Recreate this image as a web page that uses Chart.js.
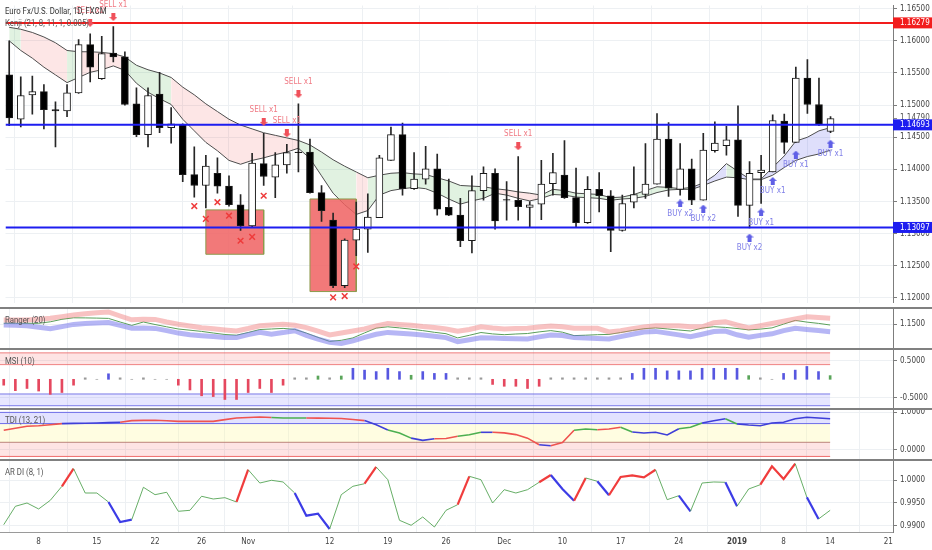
<!DOCTYPE html>
<html>
<head>
<meta charset="utf-8">
<title>EURUSD 1D</title>
<script src="https://cdn.jsdelivr.net/npm/chart.js@4/dist/chart.umd.min.js"></script>
<style>
  body { margin: 0; background: #fff; }
  #wrap { position: relative; width: 932px; height: 550px; overflow: hidden; }
  #wrap canvas { position: absolute; left: 0; }
  .sep { position: absolute; left: 0; width: 932px; height: 2px; background: #808080; }
  .ttl { position: absolute; left: 5px; font: 9.5px Roboto, 'Liberation Sans', sans-serif; color: #555; white-space: nowrap; transform: scaleX(0.82); transform-origin: 0 0; line-height: 10px; }
</style>
</head>
<body>
<div id="wrap">
  <canvas id="priceChart" width="932" height="308" style="top:0"></canvas>
  <canvas id="rangerChart" width="932" height="40" style="top:309px"></canvas>
  <canvas id="msiChart" width="932" height="59" style="top:350px"></canvas>
  <canvas id="tdiChart" width="932" height="49" style="top:410px"></canvas>
  <canvas id="ardiChart" width="932" height="89" style="top:461px"></canvas>
  <div class="sep" style="top:307px"></div>
  <div class="sep" style="top:348px"></div>
  <div class="sep" style="top:408px"></div>
  <div class="sep" style="top:459px"></div>
  <div class="ttl" style="top:6px;color:#333">Euro Fx/U.S. Dollar, 1D, FXCM</div>
  <div class="ttl" style="top:18px">Kenji (21, 8, 11, 1, 0.005)</div>
  <div class="ttl" style="top:315px">Ranger (20)</div>
  <div class="ttl" style="top:356px">MSI (10)</div>
  <div class="ttl" style="top:415px">TDI (13, 21)</div>
  <div class="ttl" style="top:467px">AR DI (8, 1)</div>
</div>
<script>
// daily bars, 3 Oct 2018 .. 14 Jan 2019 (index = bar number)
const opens = [1.1547,1.1478,1.1516,1.1521,1.1493,1.1491,1.1519,1.1594,1.1541,1.1581,
  1.1575,1.1502,1.1454,1.1517,1.1465,1.1470,1.1392,1.1375,1.1394,1.1374,
  1.1345,1.1312,1.1409,1.1388,1.1407,1.1427,1.1427,1.1364,1.1321,1.1219,
  1.1290,1.1307,1.1325,1.1414,1.1454,1.1370,1.1385,1.1401,1.1341,1.1329,
  1.1289,1.1367,1.1394,1.1353,1.1352,1.1341,1.1346,1.1378,1.1391,1.1356,
  1.1317,1.1369,1.1359,1.1305,1.1349,1.1361,1.1377,1.1447,1.1369,1.1401,
  1.1352,1.1429,1.1437,1.1446,1.1344,1.1395,1.1396,1.1475,1.1442,1.1542,
  1.1501,1.1459];
const highs = [1.1600,1.1544,1.1545,1.1532,1.1505,1.1532,1.1602,1.1611,1.1607,1.1622,
  1.1583,1.1527,1.1527,1.1551,1.1496,1.1471,1.1435,1.1422,1.1418,1.1390,
  1.1361,1.1425,1.1456,1.1426,1.1439,1.1502,1.1447,1.1375,1.1332,1.1292,
  1.1349,1.1362,1.1422,1.1466,1.1472,1.1426,1.1436,1.1424,1.1385,1.1355,
  1.1390,1.1404,1.1401,1.1381,1.1420,1.1350,1.1414,1.1425,1.1445,1.1402,
  1.1389,1.1395,1.1367,1.1360,1.1404,1.1440,1.1487,1.1473,1.1440,1.1416,
  1.1456,1.1474,1.1467,1.1499,1.1412,1.1422,1.1485,1.1486,1.1559,1.1571,
  1.1542,1.1482];
const lows = [1.1468,1.1466,1.1486,1.1463,1.1435,1.1482,1.1518,1.1536,1.1540,1.1567,
  1.1500,1.1451,1.1435,1.1457,1.1441,1.1381,1.1357,1.1340,1.1363,1.1343,
  1.1305,1.1311,1.1375,1.1356,1.1394,1.1396,1.1363,1.1319,1.1216,1.1216,
  1.1266,1.1271,1.1325,1.1414,1.1360,1.1369,1.1377,1.1329,1.1328,1.1280,
  1.1270,1.1352,1.1307,1.1321,1.1321,1.1311,1.1322,1.1360,1.1355,1.1310,
  1.1316,1.1334,1.1272,1.1304,1.1340,1.1355,1.1377,1.1358,1.1360,1.1345,
  1.1352,1.1427,1.1422,1.1327,1.1309,1.1347,1.1396,1.1425,1.1442,1.1487,
  1.1468,1.1457];
const closes = [1.1480,1.1515,1.1521,1.1493,1.1491,1.1519,1.1594,1.1559,1.1580,1.1575,
  1.1501,1.1454,1.1515,1.1465,1.1471,1.1392,1.1375,1.1405,1.1374,1.1345,
  1.1312,1.1410,1.1389,1.1407,1.1426,1.1426,1.1364,1.1336,1.1219,1.1290,
  1.1307,1.1326,1.1418,1.1454,1.1370,1.1385,1.1401,1.1338,1.1329,1.1289,
  1.1367,1.1394,1.1320,1.1352,1.1342,1.1345,1.1377,1.1395,1.1356,1.1317,
  1.1369,1.1359,1.1305,1.1347,1.1361,1.1377,1.1447,1.1371,1.1401,1.1352,
  1.1430,1.1441,1.1446,1.1344,1.1394,1.1399,1.1476,1.1442,1.1542,1.1501,
  1.1469,1.1479];

// Kenji envelope
const kenjiUpper = [1.1621,1.1618,1.1613,1.1606,1.1597,1.1585,1.1583,1.1583,1.1582,1.1580,
  1.1575,1.1562,1.1555,1.1550,1.1543,1.1528,1.1516,1.1502,1.1490,1.1478,
  1.1469,1.1463,1.1457,1.1453,1.1449,1.1445,1.1438,1.1427,1.1415,1.1405,
  1.1396,1.1387,1.1391,1.1394,1.1395,1.1393,1.1392,1.1387,1.1382,1.1375,
  1.1374,1.1373,1.1370,1.1368,1.1365,1.1363,1.1360,1.1369,1.1367,1.1363,
  1.1362,1.1361,1.1356,1.1357,1.1361,1.1367,1.1373,1.1372,1.1370,1.1372,
  1.1379,1.1391,1.1409,1.1397,1.1385,1.1385,1.1403,1.1421,1.1444,1.1450,
  1.1460,1.1465];
const kenjiLower = [1.1600,1.1585,1.1573,1.1559,1.1547,1.1535,1.1543,1.1551,1.1555,1.1561,
  1.1554,1.1534,1.1520,1.1510,1.1501,1.1478,1.1460,1.1442,1.1429,1.1414,
  1.1408,1.1414,1.1418,1.1423,1.1427,1.1433,1.1417,1.1390,1.1363,1.1345,
  1.1330,1.1336,1.1360,1.1367,1.1370,1.1372,1.1370,1.1363,1.1354,1.1346,
  1.1351,1.1355,1.1363,1.1360,1.1355,1.1351,1.1355,1.1361,1.1360,1.1357,
  1.1356,1.1355,1.1352,1.1354,1.1355,1.1358,1.1364,1.1368,1.1369,1.1369,
  1.1375,1.1382,1.1388,1.1387,1.1384,1.1384,1.1391,1.1403,1.1414,1.1420,
  1.1424,1.1430];
// g = up (green), r = down (red), b = strong up (blue)
const kenjiTrend = runs([['g',1],['r',4],['g',1],['r',4],['g',4],['r',11],['g',5],['r',1],
  ['g',11],['r',4],['g',13],['b',3],['g',1],['b',9]]);

const levels = [1.16279, 1.14693, 1.13097];
const levelColors = ['#f21d1d', '#1d1df0', '#1d1df0'];

const boxStart = [17, 26];
const boxEnd = [22, 30];
const boxTop = [1.1337, 1.1354];
const boxBottom = [1.1268, 1.1210];

const crossIdx = [16, 17, 18, 19, 20, 21, 22, 28, 29, 30];
const crossPrice = [1.1343, 1.1323, 1.1349, 1.1328, 1.1289, 1.1295, 1.1359, 1.1201, 1.1203, 1.1249];

const sellIdx = [7, 9, 22, 24, 25, 44];
const sellPrice = [1.1628, 1.1637, 1.1474, 1.1456, 1.1517, 1.1436];
const sellText = ['SELL x2', 'SELL x1', 'SELL x1', 'SELL x1', 'SELL x1', 'SELL x1'];
const buyIdx = [58, 60, 64, 65, 66, 68, 71];
const buyPrice = [1.1347, 1.1339, 1.1294, 1.1333, 1.1382, 1.1423, 1.1440];
const buyText = ['BUY x2', 'BUY x2', 'BUY x2', 'BUY x1', 'BUY x1', 'BUY x1', 'BUY x1'];

const priceTicks = [1.120, 1.125, 1.130, 1.135, 1.140, 1.145, 1.150, 1.155, 1.160, 1.165];

// Ranger (20)
const rangerUpper = [1.1540,1.1540,1.1540,1.1548,1.1557,1.1574,1.1590,1.1602,1.1613,1.1620,
  1.1580,1.1542,1.1547,1.1546,1.1520,1.1498,1.1480,1.1462,1.1452,1.1441,
  1.1430,1.1455,1.1483,1.1490,1.1497,1.1487,1.1464,1.1428,1.1390,1.1410,
  1.1430,1.1450,1.1480,1.1506,1.1496,1.1488,1.1474,1.1464,1.1450,1.1428,
  1.1445,1.1472,1.1460,1.1451,1.1454,1.1457,1.1470,1.1480,1.1472,1.1457,
  1.1457,1.1457,1.1420,1.1433,1.1452,1.1470,1.1483,1.1483,1.1483,1.1473,
  1.1472,1.1512,1.1523,1.1490,1.1460,1.1482,1.1505,1.1528,1.1550,1.1573,
  1.1565,1.1557];
const rangerLower = [1.1490,1.1487,1.1483,1.1467,1.1452,1.1474,1.1496,1.1504,1.1511,1.1514,
  1.1486,1.1457,1.1461,1.1456,1.1434,1.1409,1.1393,1.1383,1.1374,1.1364,
  1.1365,1.1394,1.1417,1.1398,1.1414,1.1433,1.1387,1.1348,1.1318,1.1305,
  1.1332,1.1366,1.1397,1.1416,1.1408,1.1401,1.1390,1.1377,1.1364,1.1324,
  1.1343,1.1363,1.1360,1.1356,1.1353,1.1350,1.1371,1.1390,1.1385,1.1364,
  1.1360,1.1356,1.1350,1.1374,1.1397,1.1420,1.1426,1.1409,1.1391,1.1373,
  1.1398,1.1424,1.1430,1.1392,1.1368,1.1386,1.1402,1.1434,1.1458,1.1446,
  1.1434,1.1423];
const rangerMid = [1.1507,1.1507,1.1507,1.1507,1.1522,1.1547,1.1562,1.1561,1.1559,1.1556,
  1.1520,1.1486,1.1520,1.1495,1.1472,1.1450,1.1438,1.1426,1.1410,1.1395,
  1.1388,1.1415,1.1445,1.1450,1.1456,1.1446,1.1409,1.1366,1.1326,1.1337,
  1.1361,1.1411,1.1459,1.1472,1.1461,1.1448,1.1434,1.1417,1.1403,1.1361,
  1.1387,1.1415,1.1401,1.1393,1.1400,1.1405,1.1421,1.1434,1.1418,1.1384,
  1.1388,1.1393,1.1396,1.1415,1.1435,1.1453,1.1461,1.1451,1.1440,1.1430,
  1.1459,1.1473,1.1466,1.1455,1.1441,1.1449,1.1461,1.1499,1.1536,1.1519,
  1.1506,1.1490];

// MSI (10)
const msiValues = [-0.16,-0.31,-0.25,-0.32,-0.41,-0.36,-0.16,0.04,0,0.15,
  0.04,0,0.04,0,0,-0.16,-0.29,-0.45,-0.47,-0.55,
  -0.55,-0.36,-0.25,-0.36,-0.16,0.04,0.04,0.09,0.04,0.09,
  0.30,0.25,0.21,0.30,0.21,0.11,0.21,0.16,0.16,0.04,
  0.04,0.04,-0.14,-0.19,-0.19,-0.25,-0.19,0.04,0.04,0.04,
  0.04,0.04,0.04,0.04,0.16,0.30,0.30,0.23,0.23,0.23,
  0.30,0.30,0.30,0.30,0.10,0.04,0,0.16,0.25,0.35,
  0.21,0.10];
const msiHighZone = [0.40, 0.72];
const msiLowZone = [-0.72, -0.40];

// TDI (13, 21)
const tdiValues = [0.520,0.575,0.627,0.643,0.670,0.700,0.705,0.710,0.716,0.725,
  0.735,0.780,0.785,0.790,0.775,0.760,0.760,0.760,0.760,0.805,
  0.850,0.863,0.876,0.863,0.850,0.850,0.850,0.846,0.843,0.838,
  0.810,0.780,0.670,0.530,0.450,0.310,0.250,0.295,0.300,0.360,
  0.400,0.466,0.466,0.450,0.405,0.310,0.134,0.107,0.190,0.520,
  0.555,0.536,0.553,0.600,0.473,0.448,0.466,0.394,0.563,0.600,
  0.716,0.777,0.830,0.690,0.662,0.643,0.716,0.735,0.830,0.868,
  0.850,0.830];
const tdiTrend = runs([['r',5],['b',5],['r',13],['g',3],['r',5],['b',2],['g',2],['b',2],['r',2],
  ['g',2],['b',1],['r',4],['b',1],['r',2],['g',2],['r',2],['g',1],['b',4],['g',2],['b',2],['g',1],['b',9]]);
const tdiZones = [1.0, 0.7, 0.2, -0.18];

// AR DI (8, 1)
const ardiValues = [0.99022,0.99427,0.99500,0.99368,0.99559,0.99868,1.00256,0.99720,0.99720,0.99522,
  0.99081,0.99132,0.99846,0.99683,0.99736,0.99317,0.99339,0.99648,0.99588,0.99617,
  0.99522,1.00233,0.99940,1.00000,0.99963,0.99720,0.99220,0.99264,0.98927,0.99683,
  0.99868,0.99925,1.00293,1.00013,0.99119,0.99009,0.99192,0.98971,0.99339,0.99463,
  1.00088,1.00013,0.99500,0.99793,0.99720,0.99793,0.99956,1.00117,0.99808,0.99551,
  1.00051,0.99978,0.99670,1.00073,1.00110,1.00066,1.00233,0.99573,0.99661,0.99317,
  0.99940,0.99963,0.99956,0.99427,0.99808,0.99903,1.00308,1.00029,1.00366,0.99626,
  0.99148,0.99339];
const ardiTrend = runs([['n',5],['r',1],['n',3],['b',2],['n',9],['r',1],['n',4],['b',3],['n',3],['r',1],
  ['n',7],['r',1],['n',6],['r',1],['b',2],['r',1],['n',1],['b',1],['r',4],['n',2],['b',1],['n',3],
  ['b',1],['n',2],['r',3],['n',1],['b',1],['n',2]]);

const tickIndex = [3, 8, 13, 17, 21, 28, 33, 38, 43, 48, 53, 58, 63, 67, 71, 76];
const tickText = ['8', '15', '22', '26', 'Nov', '12', '19', '26', 'Dec', '10', '17', '24', '2019', '8', '14', '21'];

function runs(list) {
  const out = [];
  list.forEach(([c, n]) => { for (let k = 0; k < n; k++) out.push(c); });
  return out;
}

const xMin = -0.32, xMax = 76.4;
const lastIdx = closes.length - 1;
const GRID = '#edf0f3';
const AXIS = '#7d7d7d';
const FONT = "'Liberation Sans Narrow','DejaVu Sans Condensed','Liberation Sans',Arial,sans-serif";

Chart.defaults.font.family = FONT;
Chart.defaults.font.size = 8;
Chart.defaults.color = '#444';

const pts = arr => arr.map((v, i) => ({x: i, y: v}));
const flat = (y, x0, x1) => [{x: x0, y: y}, {x: x1, y: y}];
const pick = (idx, vals) => idx.map((i, k) => ({x: i, y: vals[k]}));

function line(data, color, width, extra) {
  return Object.assign({type: 'line', data: data, borderColor: color, borderWidth: width,
    pointRadius: 0, fill: false, tension: 0}, extra || {});
}

function arrowImg(color, up) {
  const c = document.createElement('canvas');
  c.width = 8; c.height = 8;
  const g = c.getContext('2d');
  g.fillStyle = color;
  g.beginPath();
  if (up) {
    g.moveTo(4, 0); g.lineTo(8, 4); g.lineTo(6, 4); g.lineTo(6, 8); g.lineTo(2, 8); g.lineTo(2, 4); g.lineTo(0, 4);
  } else {
    g.moveTo(4, 8); g.lineTo(8, 4); g.lineTo(6, 4); g.lineTo(6, 0); g.lineTo(2, 0); g.lineTo(2, 4); g.lineTo(0, 4);
  }
  g.closePath();
  g.fill();
  return c;
}

function timeAxis(withLabels) {
  return {
    type: 'linear', min: xMin, max: xMax, offset: false,
    afterBuildTicks: s => { s.ticks = tickIndex.map(v => ({value: v})); },
    afterFit: s => { s.paddingLeft = 0; s.paddingRight = 0; s.height = withLabels ? 18 : 0; },
    grid: {color: GRID, drawTicks: false},
    border: {display: withLabels, color: '#9a9a9a'},
    ticks: {
      display: withLabels, padding: 5, maxRotation: 0, autoSkip: false, color: '#444',
      font: c => ({family: FONT, size: 8, weight: tickText[c.index] === '2019' ? 'bold' : 'normal'}),
      callback: (v, k) => tickText[k]
    }
  };
}

function valueAxis(min, max, ticks, digits) {
  return {
    position: 'right', min: min, max: max,
    afterBuildTicks: s => { s.ticks = ticks.map(v => ({value: v})); },
    afterFit: s => { s.width = 39; s.paddingTop = 0; s.paddingBottom = 0; },
    grid: {color: GRID, tickColor: AXIS, tickLength: 4},
    border: {color: AXIS},
    ticks: {padding: 3, color: '#444', callback: v => v.toFixed(digits)}
  };
}

function makeChart(id, datasets, yAxis, withTime, extraPlugins) {
  return new Chart(document.getElementById(id), {
    type: 'bar',
    data: {datasets: datasets},
    options: {
      responsive: false, animation: false, events: [],
      layout: {padding: 0},
      plugins: {legend: {display: false}, tooltip: {enabled: false}},
      scales: {x: timeAxis(withTime), y: yAxis}
    },
    plugins: extraPlugins || []
  });
}

// text next to signal arrows
const signalText = {
  id: 'signalText',
  afterDatasetsDraw(chart) {
    const ctx = chart.ctx;
    chart.data.datasets.forEach((ds, di) => {
      if (!ds.texts) return;
      const meta = chart.getDatasetMeta(di);
      ctx.save();
      ctx.font = '8px ' + FONT;
      ctx.fillStyle = ds.textColor;
      ctx.textAlign = 'center';
      ctx.textBaseline = 'middle';
      meta.data.forEach((pt, k) => ctx.fillText(ds.texts[k], pt.x, pt.y + ds.textShift));
      ctx.restore();
    });
  }
};

// coloured price tags on the right scale
const levelTags = {
  id: 'levelTags',
  afterDraw(chart) {
    const ctx = chart.ctx, area = chart.chartArea, y = chart.scales.y;
    ctx.save();
    ctx.font = '8px ' + FONT;
    ctx.textBaseline = 'middle';
    const cy = y.getPixelForValue(closes[lastIdx]);
    ctx.strokeStyle = AXIS;
    ctx.beginPath(); ctx.moveTo(area.right, cy); ctx.lineTo(area.right + 4, cy); ctx.stroke();
    ctx.fillStyle = '#555';
    ctx.fillText(closes[lastIdx].toFixed(5), area.right + 7, cy - 1);
    levels.forEach((p, k) => {
      const py = y.getPixelForValue(p);
      ctx.fillStyle = levelColors[k];
      ctx.fillRect(area.right, py - 5.5, chart.width - area.right, 11);
      ctx.fillStyle = '#fff';
      ctx.fillText(p.toFixed(5), area.right + 7, py);
    });
    ctx.restore();
  }
};

// ---------- price panel ----------
const trendFill = {g: 'rgba(76,175,80,0.17)', r: 'rgba(242,80,80,0.14)', b: 'rgba(95,95,235,0.2)'};
const boxSets = boxStart.map((s, k) => line([
    {x: s, y: boxTop[k]}, {x: boxEnd[k], y: boxTop[k]}, {x: boxEnd[k], y: boxBottom[k]},
    {x: s, y: boxBottom[k]}, {x: s, y: boxTop[k]}],
  '#8c9a4c', 1, {fill: 'shape', backgroundColor: 'rgba(240,98,98,0.85)', order: 7}));

const priceSets = [
  line(pts(kenjiUpper), '#4d4d4d', 1, {fill: '+1', backgroundColor: trendFill.g, order: 9,
    segment: {backgroundColor: c => trendFill[kenjiTrend[c.p0DataIndex]]}}),
  line(pts(kenjiLower), '#4d4d4d', 1, {order: 8}),
  ...boxSets,
  {type: 'bar', data: lows.map((l, i) => ({x: i, y: [l, highs[i]]})), backgroundColor: '#262626',
    barThickness: 1, grouped: false, order: 6},
  {type: 'bar', data: opens.map((o, i) => ({x: i, y: [o, closes[i]]})),
    backgroundColor: opens.map((o, i) => closes[i] >= o ? '#ffffff' : '#000000'),
    borderColor: '#1a1a1a', borderWidth: 1, borderSkipped: false, barThickness: 7, grouped: false, order: 5},
  ...levels.map((p, k) => line(flat(p, xMin, xMax), levelColors[k], 2, {order: 4})),
  {type: 'scatter', data: pick(crossIdx, crossPrice), pointStyle: 'crossRot', pointRadius: 4,
    borderColor: '#ee3b3b', borderWidth: 1.5, order: 3},
  {type: 'scatter', data: pick(sellIdx, sellPrice), pointStyle: arrowImg('#f0505a', false), pointRadius: 4,
    order: 2, texts: sellText, textColor: '#f07a84', textShift: -12},
  {type: 'scatter', data: pick(buyIdx, buyPrice), pointStyle: arrowImg('#5f5fe6', true), pointRadius: 4,
    order: 2, texts: buyText, textColor: '#7f7fe8', textShift: 10}
];
makeChart('priceChart', priceSets, valueAxis(1.119297, 1.165495, priceTicks, 5), false, [signalText, levelTags]);

// ---------- Ranger ----------
makeChart('rangerChart', [
  line(pts(rangerUpper), 'rgba(240,120,120,0.45)', 5),
  line(pts(rangerLower), 'rgba(110,110,235,0.5)', 5),
  line(pts(rangerMid), '#5a9f5a', 1)
], valueAxis(1.125, 1.165, [1.15], 4), false);

// ---------- MSI ----------
const msiColor = v => v <= -0.05 ? '#e5485f' : v >= 0.12 ? '#5757e0' : v >= 0.05 ? '#5aa55a' : '#9a9a9a';
makeChart('msiChart', [
  line(flat(msiHighZone[1], xMin, lastIdx), 'rgba(232,90,90,0.75)', 1,
    {fill: '+1', backgroundColor: 'rgba(250,120,120,0.2)', order: 5}),
  line(flat(msiHighZone[0], xMin, lastIdx), 'rgba(232,90,90,0.75)', 1, {order: 5}),
  line(flat(msiLowZone[1], xMin, lastIdx), 'rgba(90,90,225,0.8)', 1,
    {fill: '+1', backgroundColor: 'rgba(120,120,255,0.18)', order: 5}),
  line(flat(msiLowZone[0], xMin, lastIdx), 'rgba(90,90,225,0.8)', 1, {order: 5}),
  {type: 'bar', data: pts(msiValues), backgroundColor: msiValues.map(msiColor), barThickness: 2,
    grouped: false, order: 1}
], valueAxis(-0.809, 0.798, [-0.5, 0.5], 4), false);

// ---------- TDI ----------
const tdiColors = {r: '#ef5350', g: '#4caf50', b: '#3f3fd8'};
makeChart('tdiChart', [
  line(flat(tdiZones[0], xMin, lastIdx), '#6b6be8', 1, {fill: '+1', backgroundColor: 'rgba(110,110,255,0.2)', order: 5}),
  line(flat(tdiZones[1], xMin, lastIdx), '#6b6be8', 1, {fill: '+1', backgroundColor: 'rgba(255,250,170,0.35)', order: 5}),
  line(flat(tdiZones[2], xMin, lastIdx), '#b07070', 1, {fill: '+1', backgroundColor: 'rgba(250,120,120,0.2)', order: 5}),
  line(flat(tdiZones[3], xMin, lastIdx), '#ee6a6a', 1, {order: 5}),
  line(pts(tdiValues), tdiColors.r, 1.6, {order: 1,
    segment: {borderColor: c => tdiColors[tdiTrend[c.p0DataIndex]]}})
], valueAxis(-0.249, 1.064, [0, 1], 4), false);

// ---------- AR DI ----------
const ardiColors = {n: 'rgba(76,160,76,0.85)', r: '#f03c3c', b: '#3c3ce6'};
makeChart('ardiChart', [
  line(pts(ardiValues), ardiColors.n, 1, {
    segment: {
      borderColor: c => ardiColors[ardiTrend[c.p0DataIndex]],
      borderWidth: c => ardiTrend[c.p0DataIndex] === 'n' ? 1 : 2.2
    }})
], valueAxis(0.98861, 1.00425, [0.99, 0.995, 1.0], 4), true);
</script>
</body>
</html>
